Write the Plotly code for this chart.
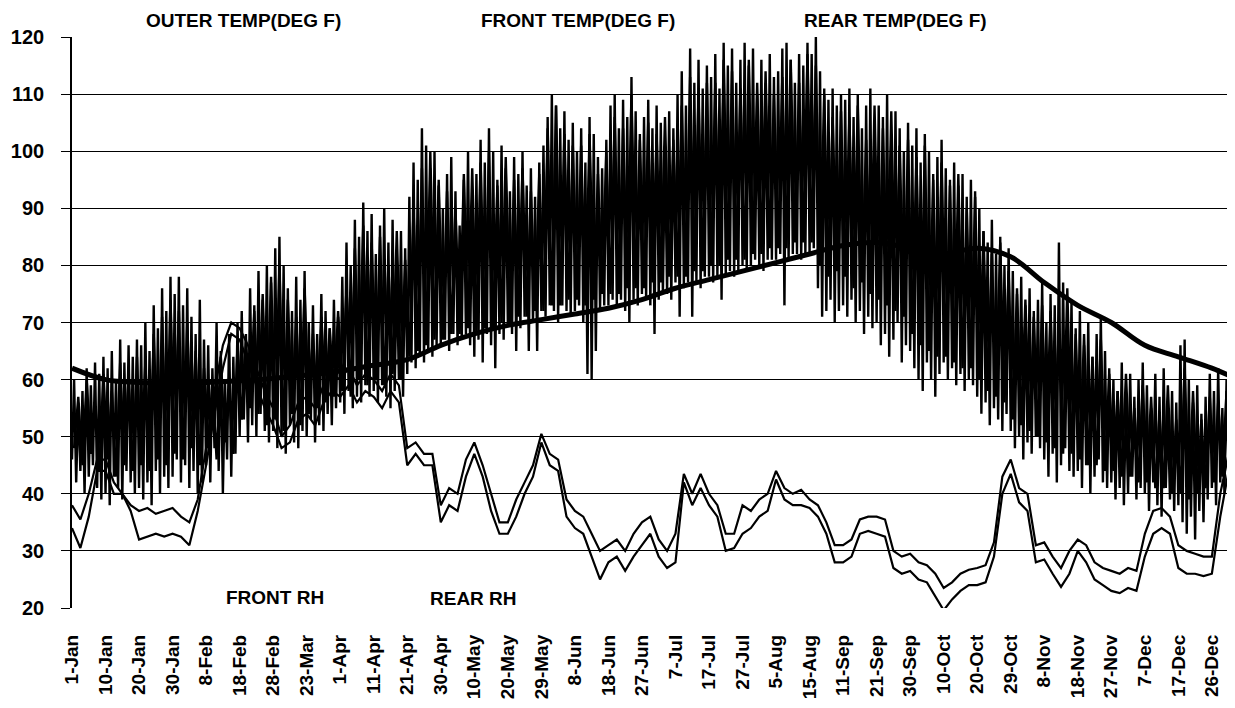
import plotly.graph_objects as go

# ---------------- data ----------------
tick_labels = ["1-Jan", "10-Jan", "20-Jan", "30-Jan", "8-Feb", "18-Feb", "28-Feb", "23-Mar",
               "1-Apr", "11-Apr", "21-Apr", "30-Apr", "10-May", "20-May", "29-May", "8-Jun",
               "18-Jun", "27-Jun", "7-Jul", "17-Jul", "27-Jul", "5-Aug", "15-Aug", "11-Sep",
               "21-Sep", "30-Sep", "10-Oct", "20-Oct", "29-Oct", "8-Nov", "18-Nov", "27-Nov",
               "7-Dec", "17-Dec", "26-Dec"]

# outer temperature, daily highs / lows (8 readings per tick interval)
outer_hi = [
    60, 56, 58, 62, 59, 63, 61, 64,
    62, 65, 60, 67, 63, 66, 64, 67,
    66, 70, 65, 73, 69, 76, 72, 78,
    75, 78, 73, 76, 71, 68, 74, 67,
    66, 62, 70, 65, 60, 68, 64, 70,
    72, 68, 76, 73, 79, 74, 80, 77,
    83, 85, 80, 76, 72, 78, 74, 79,
    70, 73, 68, 75, 72, 69, 74, 71,
    78, 84, 80, 88, 85, 91, 86, 89,
    82, 87, 90, 84, 88, 79, 86, 83,
    92, 98, 95, 104, 101, 97, 100, 94,
    90, 96, 99, 93, 87, 95, 100, 92,
    96, 102, 98, 104, 100, 95, 101, 97,
    93, 99, 96, 100, 94, 97, 92, 98,
    101, 106, 110, 108, 104, 107, 102, 105,
    100, 104, 98, 106, 103, 99, 97, 102,
    108, 110, 104, 109, 106, 113, 107, 103,
    106, 109, 104, 108, 105, 101, 107, 104,
    110, 114, 108, 118, 112, 116, 111, 115,
    113, 117, 111, 119, 115, 118, 112, 116,
    119, 115, 118, 110, 116, 112, 117, 113,
    114, 118, 119, 116, 112, 117, 115, 119,
    117, 120, 114, 111, 109, 111, 108, 110,
    109, 111, 106, 110, 104, 108, 111, 105,
    108, 106, 110, 103, 107, 104, 100, 105,
    101, 104, 98, 103, 100, 96, 99, 102,
    97, 95, 98, 94, 96, 92, 95, 93,
    90, 86, 84, 88, 82, 85, 80, 83,
    79, 75, 78, 73, 76, 72, 74, 77,
    70, 75, 73, 84, 77, 71, 74, 69,
    72, 66, 70, 64, 68, 71, 65, 62,
    60, 58, 63, 56, 61, 57, 60, 63,
    59, 55, 61, 57, 62, 54, 58, 56,
    66, 67, 60, 56, 59, 54, 57, 61,
    58, 62, 55, 60, 57,
]
outer_lo = [
    46, 42, 44, 40, 43, 45, 41, 39,
    40, 38, 43, 41, 39, 44, 42, 40,
    41, 39, 42, 38, 44, 40, 43, 41,
    43, 46, 42, 45, 41, 44, 40, 42,
    45, 42, 48, 44, 40, 46, 43, 47,
    50, 53, 49, 52, 50, 54, 51, 49,
    51, 48, 50, 47, 52, 49, 48, 51,
    50, 53, 49, 52, 51, 54, 52, 55,
    56, 54, 58, 55, 57, 56, 59, 57,
    58, 56, 59, 57, 55, 58, 60, 57,
    61, 63, 62, 64, 63, 65, 64, 66,
    66, 67, 65, 68, 66, 67, 68, 66,
    64, 67, 63, 68, 66, 62, 68, 67,
    70, 68, 65, 69, 71, 65, 70, 65,
    72, 71, 73, 72, 70, 73, 72, 71,
    72, 73, 70, 61, 60, 65, 72, 73,
    73, 74, 73, 74, 72, 70, 74, 73,
    75, 74, 73, 68, 74, 75, 75, 74,
    77, 71, 76, 77, 71, 77, 76, 78,
    78, 77, 78, 74, 78, 79, 78, 79,
    80, 79, 80, 81, 80, 79, 81, 81,
    81, 82, 73, 81, 82, 82, 81, 82,
    82, 83, 76, 71, 72, 74, 70, 72,
    73, 71, 74, 70, 72, 68, 71, 69,
    70, 66, 68, 64, 67, 70, 63, 66,
    65, 62, 60, 58, 63, 60, 57, 61,
    63, 60, 62, 59, 61, 58, 60, 59,
    57, 54, 56, 52, 55, 53, 51, 54,
    51, 48, 50, 46, 49, 47, 50, 48,
    46, 43, 47, 42, 45, 48, 44, 43,
    44, 41, 45, 40, 43, 46, 42, 41,
    42, 39, 41, 38, 40, 43, 39, 41,
    40, 37, 42, 38, 36, 41, 39, 37,
    38, 35, 33, 36, 32, 37, 35, 39,
    41, 38, 42, 40, 43,
]

# front temperature, highs / lows (4 readings per tick interval)
front_hi = [
    57, 60, 55, 61,   58, 63, 61, 64,   63, 68, 71, 74,   72, 70, 65, 62,
    60, 64, 58, 66,   67, 72, 75, 78,   80, 74, 71, 76,   68, 71, 69, 72,
    76, 83, 87, 84,   85, 80, 86, 81,   90, 97, 100, 95,  93, 90, 96, 97,
    98, 100, 94, 99,  95, 97, 93, 96,   104, 108, 103, 101, 101, 103, 96, 100,
    106, 104, 110, 102, 105, 103, 106, 102, 108, 113, 110, 112, 112, 116, 114, 111,
    116, 112, 114, 110, 113, 116, 112, 117, 115, 110, 106, 107, 106, 108, 102, 108,
    104, 107, 101, 102, 99, 101, 95, 98,  94, 96, 90, 92,   86, 82, 84, 79,
    76, 74, 71, 73,   72, 70, 76, 68,   68, 64, 67, 61,   58, 61, 55, 59,
    57, 54, 59, 53,   62, 58, 53, 57,   56, 58, 54,
]
front_lo = [
    48, 45, 47, 44,   46, 43, 45, 44,   45, 44, 46, 45,   47, 46, 48, 45,
    48, 46, 49, 47,   53, 55, 54, 52,   53, 51, 54, 52,   54, 55, 56, 57,
    58, 57, 60, 59,   60, 59, 61, 60,   64, 65, 66, 67,   67, 68, 68, 69,
    68, 69, 69, 70,   70, 71, 71, 72,   72, 73, 73, 74,   74, 73, 74, 75,
    75, 75, 76, 76,   76, 77, 77, 78,   78, 78, 79, 79,   80, 80, 81, 81,
    81, 82, 82, 83,   83, 83, 84, 84,   84, 80, 78, 79,   78, 76, 77, 75,
    74, 73, 72, 71,   68, 66, 65, 64,   64, 63, 62, 62,   60, 58, 57, 56,
    53, 52, 51, 50,   49, 48, 47, 47,   46, 45, 45, 44,   44, 43, 43, 42,
    42, 41, 41, 40,   40, 39, 40, 41,   42, 43, 44,
]

# smooth (insulated) temperature, one reading per tick plus end of record
rear_temp = [62, 60, 59.5, 59.5, 59.5, 59.8, 60.2, 60.8, 61.5, 62.5, 63.5, 66, 68, 69.5,
             70.5, 71.5, 72.5, 74, 76, 77.5, 79, 80.5, 82, 83.5, 84, 83, 82, 83, 81.5,
             77, 73, 70, 66, 64, 62, 60.5]

# relative humidity (4 readings per tick interval)
front_rh = [
    38, 35.5, 40, 46,   46, 42, 40, 38,   37, 37.5, 36.5, 37,   37.5, 36, 35, 39,
    48, 58, 66, 70,     69, 66, 62, 58,   55, 50, 52, 56,       57, 55, 59, 61,
    60, 62, 59, 61,     60, 58, 61, 59,   48, 49, 47, 47,       38, 41, 40, 46,
    49, 45, 40, 35,     35, 39, 42, 45,   50.5, 47, 46, 39,     37, 36, 33, 30,
    31, 32, 30, 33,     35, 36, 32, 30,   33, 43.5, 40, 43.5,   40, 38, 33, 33,
    38, 37, 39, 40,     44, 41, 40, 40.7, 39, 38, 35, 31,       31, 32, 35.5, 36,
    36, 35.5, 30, 29,   29.5, 28, 27.5, 26, 23.5, 24.5, 26, 26.7, 27, 27.5, 31.5, 43,
    46, 41, 40, 31,     31.5, 29, 27, 30, 32, 31, 28, 27,       26.5, 26, 27, 26.5,
    33, 37, 37.5, 36,   31, 30, 29.5, 29, 29, 40, 47,
]
rear_rh = [
    34, 30.5, 36, 44,   44, 40, 40, 37,   32, 32.5, 33, 32.5,   33, 32.5, 31, 37,
    45, 54, 62, 68,     67, 63, 59, 55,   52, 48, 49, 53,       54, 52, 56, 58,
    57, 59, 56, 58,     57, 55, 58, 56,   45, 47, 45, 45,       35, 38, 37, 43,
    47, 43, 37, 33,     33, 36, 40, 43,   49, 45, 44, 36,       34, 33, 29, 25,
    28, 29, 26.5, 29,   31, 33, 29, 27,   28, 42, 38, 41,       38, 36, 30, 30.5,
    33, 34, 36, 37,     42.5, 39, 38, 38, 37.5, 36, 33, 28,     28, 29, 33, 33.5,
    33, 32.5, 27, 26,   26.5, 25, 24.5, 22, 19.6, 21.5, 23, 24, 24, 24.5, 29, 40,
    43.5, 38.5, 37, 28, 28.5, 26, 23.7, 26, 30, 28, 25, 24,     23, 22.6, 23.5, 23,
    29, 33, 34, 33,     27, 26, 26, 25.6, 26, 36, 44,
]

TEMP_PER_TICK = 8
FRONT_PER_TICK = 4
RH_PER_TICK = 4
X_END = 34.6

# The page body has an 8 px default margin, so the figure is drawn 8 px in from
# the top-left corner.  Plot area on the page: x 72..1232, y 37..608.
OFF = 8
W, H = 1235 - OFF, 708 - OFF
L, R, T, B = 72 - OFF, 3, 37 - OFF, 100
PW, PH = W - L - R, H - T - B


def zigzag(lows, highs, per_tick, phase):
    xs, ys = [], []
    step = 1.0 / per_tick
    for j, (lo, hi) in enumerate(zip(lows, highs)):
        x0 = j * step + phase * step
        xs += [x0, x0 + 0.5 * step]
        ys += [lo, hi]
    return xs, ys


ox, oy = zigzag(outer_lo, outer_hi, TEMP_PER_TICK, 0.0)
fx, fy = zigzag(front_lo, front_hi, FRONT_PER_TICK, 0.25)
rear_x = list(range(len(tick_labels))) + [X_END]
rh_x = [j / RH_PER_TICK for j in range(len(front_rh))]

fig = go.Figure()
fig.add_trace(go.Scatter(x=rh_x, y=front_rh, mode="lines", name="FRONT RH",
                         line=dict(color="black", width=2.2)))
fig.add_trace(go.Scatter(x=rh_x[:len(rear_rh)], y=rear_rh, mode="lines", name="REAR RH",
                         line=dict(color="black", width=2.2)))
fig.add_trace(go.Scatter(x=fx, y=fy, mode="lines", name="FRONT TEMP(DEG F)",
                         line=dict(color="black", width=2.4)))
fig.add_trace(go.Scatter(x=ox, y=oy, mode="lines", name="OUTER TEMP(DEG F)",
                         line=dict(color="black", width=2.4)))
fig.add_trace(go.Scatter(x=rear_x, y=rear_temp, mode="lines", name="REAR TEMP(DEG F)",
                         line=dict(color="black", width=5, shape="spline")))

FONT = "Liberation Sans, Arial, sans-serif"

fig.update_layout(
    width=W, height=H,
    margin=dict(l=L, r=R, t=T, b=B, autoexpand=False),
    paper_bgcolor="white", plot_bgcolor="white",
    showlegend=False,
    font=dict(family=FONT, color="black", size=16),
)
fig.update_xaxes(
    range=[0, X_END], automargin=False,
    tickmode="array",
    tickvals=list(range(len(tick_labels))),
    ticktext=tick_labels,
    tickangle=-90,
    tickfont=dict(family=FONT, size=19, color="black", weight="bold"),
    showgrid=False, zeroline=False,
    showline=False, ticks="", ticklabelstandoff=22,
)
fig.update_yaxes(
    range=[20, 120], dtick=10, tick0=20, automargin=False,
    showgrid=True, gridcolor="black", gridwidth=1.3,
    zeroline=False,
    showline=True, linecolor="black", linewidth=1.6,
    ticks="outside", ticklen=9, tickcolor="black", tickwidth=1.3,
    ticklabelstandoff=13,
    tickfont=dict(family=FONT, size=20, color="black", weight="bold"),
)

# label centres given in page pixels
labels = [
    ("OUTER TEMP(DEG F)", 243, 21),
    ("FRONT TEMP(DEG F)", 578, 21),
    ("REAR TEMP(DEG F)", 895, 21),
    ("FRONT RH", 275, 597),
    ("REAR RH", 473, 598),
]
for text, px, py in labels:
    fig.add_annotation(text=text, x=(px - 72) / PW, y=1 - (py - 37) / PH,
                       xref="paper", yref="paper",
                       xanchor="center", yanchor="middle", showarrow=False,
                       font=dict(family=FONT, size=19, color="black", weight="bold"))

fig.write_html("out.html")
